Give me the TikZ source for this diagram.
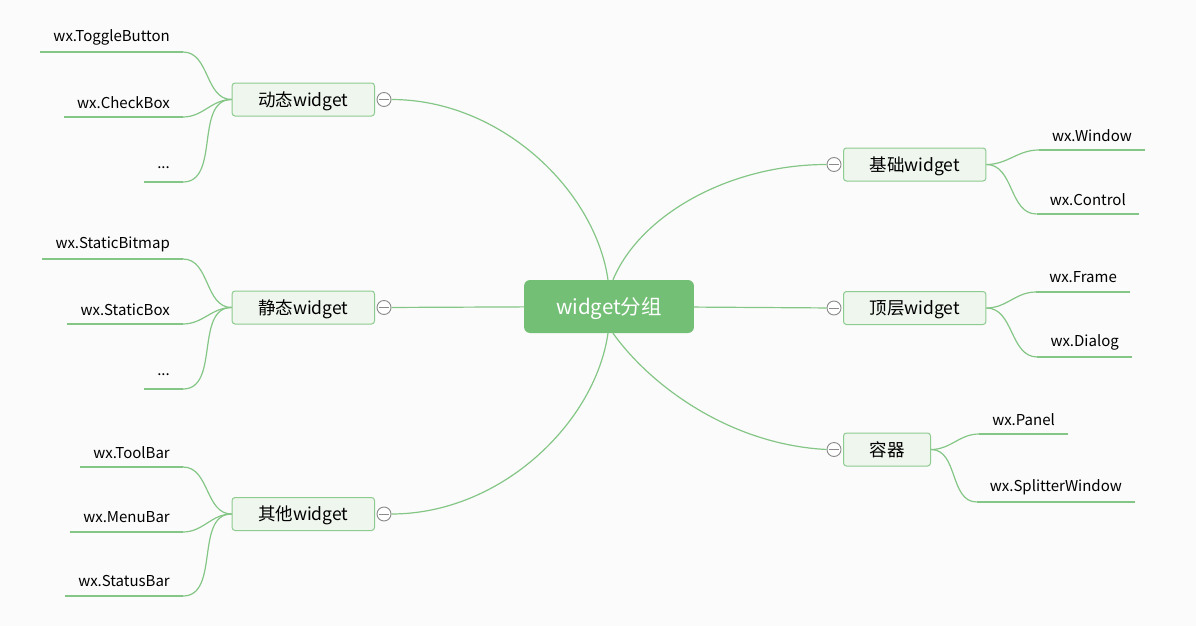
\documentclass[tikz,border=0pt]{standalone}
\usepackage{fontspec}
\setmainfont{Noto Sans CJK SC}
\definecolor{bgcol}{HTML}{FBFBFB}
\definecolor{mapgreen}{HTML}{73BF76}
\definecolor{linegreen}{HTML}{84C686}
\definecolor{boxfill}{HTML}{EFF6EE}
\definecolor{boxline}{HTML}{8DCB8F}
\definecolor{foldgray}{HTML}{8A8A8A}
\tikzset{
  link/.style={draw=linegreen,line width=1.2pt},
  root/.style={rectangle,rounded corners=6pt,fill=mapgreen,text=white,
    font=\fontsize{20.5}{24}\selectfont,inner xsep=32pt,minimum height=53pt,
    text height=19pt,text depth=4pt},
  topic/.style={rectangle,rounded corners=3pt,draw=boxline,line width=1pt,fill=boxfill,
    font=\fontsize{17.5}{20}\selectfont,inner xsep=26pt,minimum height=33pt,
    text height=17pt,text depth=3.5pt},
  leaf/.style={font=\fontsize{15}{18}\selectfont,text=black,inner xsep=13pt,
    inner ysep=0pt,minimum height=29pt},
  fold/.style={circle,draw=foldgray,line width=0.9pt,fill=white,minimum size=14pt,inner sep=0pt,
    path picture={\draw[foldgray,line width=0.9pt]
      ([xshift=-5pt]path picture bounding box.center) -- ([xshift=5pt]path picture bounding box.center);}}
}
\begin{document}
\begin{tikzpicture}[x=1pt,y=-1pt]
    \fill[bgcol] (0,0) rectangle (1196,626);
    \useasboundingbox (0,0) rectangle (1196,626);

    % centre and groups
    \node[root] (grp) at (609,306.5) {widget分组};
    \begin{scope}[every node/.style={topic}]
        \node[anchor=east] (dyn) at (375,99.5) {动态widget};
        \node[anchor=east] (sta) at (375,307.5) {静态widget};
        \node[anchor=east] (oth) at (375,514) {其他widget};
        \node[anchor=west] (bas) at (843,164.5) {基础widget};
        \node[anchor=west] (top) at (843,308) {顶层widget};
        \node[anchor=west] (con) at (843,449.5) {容器};
    \end{scope}
    \begin{scope}[every node/.style={fold}]
        \node (dyn-f) at ([xshift=9pt]dyn.east) {};
        \node (sta-f) at ([xshift=9pt]sta.east) {};
        \node (oth-f) at ([xshift=9pt]oth.east) {};
        \node (bas-f) at ([xshift=-9pt]bas.west) {};
        \node (top-f) at ([xshift=-9pt]top.west) {};
        \node (con-f) at ([xshift=-9pt]con.west) {};
    \end{scope}

    % leaves
    \begin{scope}[every node/.style={leaf}]
        \node[anchor=south east] (tog) at (183,52) {wx.ToggleButton};
        \node[anchor=south east] (chk) at (183,117) {wx.CheckBox};
        \node[anchor=south east] (dyn-m) at (183,182) {...};
        \node[anchor=south east] (bmp) at (183,259) {wx.StaticBitmap};
        \node[anchor=south east] (sbx) at (183,324) {wx.StaticBox};
        \node[anchor=south east] (sta-m) at (183,389) {...};
        \node[anchor=south east] (tlb) at (183,467) {wx.ToolBar};
        \node[anchor=south east] (mnb) at (183,532) {wx.MenuBar};
        \node[anchor=south east] (stb) at (183,596) {wx.StatusBar};
        \node[anchor=south east] (win) at (1145,150) {wx.Window};
        \node[anchor=south east] (ctl) at (1139,214) {wx.Control};
        \node[anchor=south east] (frm) at (1130,292) {wx.Frame};
        \node[anchor=south east] (dlg) at (1132,357) {wx.Dialog};
        \node[anchor=south east] (pnl) at (1068,434) {wx.Panel};
        \node[anchor=south east] (spl) at (1135,502) {wx.SplitterWindow};
    \end{scope}

    % centre to groups
    \draw[link] ([xshift=-1pt]grp.north) .. controls +(-13,-90) and +(109,0) .. (dyn-f.east);
    \draw[link] ([xshift=-1pt]grp.south) .. controls +(-13,90) and +(109,0) .. (oth-f.east);
    \draw[link] ([xshift=4pt]grp.north) .. controls +(27,-65) and +(-97,0) .. (bas-f.west);
    \draw[link] ([xshift=4pt]grp.south) .. controls +(37,52) and +(-97,-5) .. (con-f.west);
    \path[link] (sta-f) edge (grp) (grp) edge (top-f);

    % groups to leaves
    \foreach \l in {tog,chk,dyn-m}
        \path[link] (dyn.west) edge[out=180,in=0] (\l.south east);
    \foreach \l in {bmp,sbx,sta-m}
        \path[link] (sta.west) edge[out=180,in=0] (\l.south east);
    \foreach \l in {tlb,mnb,stb}
        \path[link] (oth.west) edge[out=180,in=0] (\l.south east);
    \foreach \l in {win,ctl}
        \path[link] (bas.east) edge[out=0,in=180] (\l.south west);
    \foreach \l in {frm,dlg}
        \path[link] (top.east) edge[out=0,in=180] (\l.south west);
    \foreach \l in {pnl,spl}
        \path[link] (con.east) edge[out=0,in=180] (\l.south west);
    \foreach \l in {tog,chk,dyn-m,bmp,sbx,sta-m,tlb,mnb,stb,win,ctl,frm,dlg,pnl,spl}
        \draw[link] (\l.south west) -- (\l.south east);
\end{tikzpicture}
\end{document}
